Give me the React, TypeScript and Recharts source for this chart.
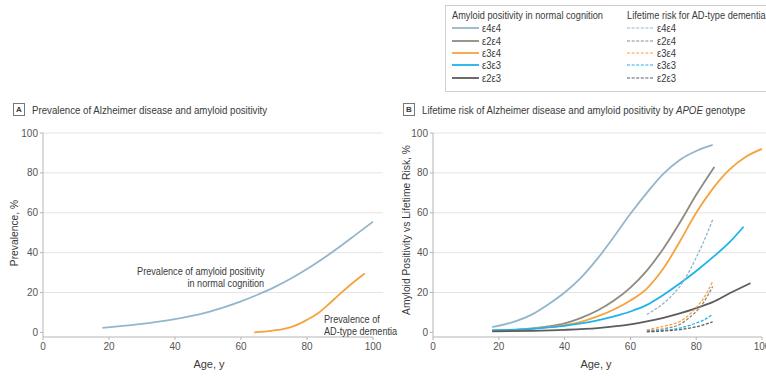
import React from "react";
import { LineChart, Line, XAxis, YAxis, ReferenceLine } from "recharts";

// ---------- Data ----------
const xTicks = [0, 20, 40, 60, 80, 100];
const yTicks = [0, 20, 40, 60, 80, 100];
const gridValues = [20, 40, 60, 80, 100];

// Panel A
const amyloidAgesA = [18, 25, 30, 35, 40, 45, 50, 55, 60, 65, 70, 75, 80, 85, 90, 95, 100];
const amyloidPrevA = [2.3, 3.4, 4.3, 5.4, 6.7, 8.3, 10.2, 12.7, 15.6, 18.9, 22.6, 26.9, 31.8, 37.2, 43.1, 49.3, 55.5];
const dementiaAgesA = [64, 67, 70, 73, 76, 80, 83, 86, 90, 94, 97.5];
const dementiaPrevA = [0, 0.4, 1, 1.8, 3.2, 6.3, 9.2, 13.3, 19.3, 25, 29.5];

// Panel B — amyloid positivity in normal cognition (solid)
const genotypes = ["ε4ε4", "ε2ε4", "ε3ε4", "ε3ε3", "ε2ε3"];
const e4e4Ages = [18, 25, 30, 35, 40, 45, 50, 55, 60, 65, 70, 75, 80, 85];
const e4e4Amy = [2.7, 5.5, 8.9, 14, 20, 27.5, 37, 48, 59.5, 70, 79.5, 86.5, 91, 94];
const e2e4Ages = [18, 25, 30, 35, 40, 45, 50, 55, 60, 65, 70, 75, 80, 85.5];
const e2e4Amy = [0.8, 1.3, 2, 3, 4.5, 7.3, 11, 16, 22.5, 31, 42, 55, 69, 83];
const e3e4Ages = [18, 25, 30, 35, 40, 45, 50, 55, 60, 65, 70, 75, 80, 85, 90, 95, 100];
const e3e4Amy = [0.8, 1.2, 1.8, 2.6, 3.6, 5.3, 8, 11.5, 16, 22, 32, 45.5, 60, 72, 81.5, 88, 92];
const e3e3Ages = [18, 25, 30, 35, 40, 45, 50, 55, 60, 65, 70, 75, 80, 85, 90, 94.4];
const e3e3Amy = [1.1, 1.4, 1.8, 2.5, 3.3, 4.5, 6, 8, 10.5, 13.8, 18.8, 24.5, 30.8, 37.6, 45, 53];
const e2e3Ages = [18, 30, 40, 50, 60, 65, 70, 75, 80, 85, 90, 96.5];
const e2e3Amy = [0.5, 0.8, 1.3, 2.2, 4, 5.5, 7.3, 9.5, 12.2, 15.2, 19.5, 24.7];

// Panel B — lifetime risk for AD-type dementia (dashed)
const e4e4RiskAges = [65, 67, 70, 72, 75, 78, 80, 82, 85];
const e4e4Risk = [9, 11, 14.5, 17.5, 23, 31, 37.5, 44.5, 56.5];
const e2e4RiskAges = [65, 70, 75, 78, 80, 82, 85];
const e2e4Risk = [0.8, 1.8, 4, 7.5, 10.5, 14.5, 23];
const e3e4RiskAges = [65, 70, 75, 78, 80, 82, 85];
const e3e4Risk = [1.3, 3, 5.5, 9, 12.5, 16.5, 25.5];
const e3e3RiskAges = [65, 70, 75, 80, 82, 85];
const e3e3Risk = [0.5, 1, 2.2, 4.7, 6, 9];
const e2e3RiskAges = [65, 70, 75, 80, 85];
const e2e3Risk = [0.3, 0.7, 1.4, 2.8, 5.3];

const toPts = (ages: number[], vals: number[]) => ages.map((age, i) => ({ age, v: vals[i] }));

const solidB = [
  toPts(e4e4Ages, e4e4Amy),
  toPts(e2e4Ages, e2e4Amy),
  toPts(e3e4Ages, e3e4Amy),
  toPts(e3e3Ages, e3e3Amy),
  toPts(e2e3Ages, e2e3Amy),
];
const dashedB = [
  toPts(e4e4RiskAges, e4e4Risk),
  toPts(e2e4RiskAges, e2e4Risk),
  toPts(e3e4RiskAges, e3e4Risk),
  toPts(e3e3RiskAges, e3e3Risk),
  toPts(e2e3RiskAges, e2e3Risk),
];

// ---------- Styles ----------
const COLORS = ["#93b6cd", "#908a80", "#f7a23f", "#1db3ea", "#5c5c5c"];
const FONT = "'Liberation Sans', Arial, sans-serif";
const TEXT = "#3a3a3a";
const AXIS = "#b5b5b5";
const GRID = "#e4e4e4";

const W = 383;
const H = 378;
const MARGIN_A = { top: 133, right: 10, bottom: 11, left: 3 };
const MARGIN_B = { top: 133, right: 4, bottom: 11, left: 10 };

const tickStyle = { fill: "#555", fontSize: 10, fontFamily: FONT };

function Axes({ gridTo }: { gridTo: number }) {
  return (
    <>
      {gridValues.map((g) => (
        <ReferenceLine
          key={g}
          segment={[{ x: 0, y: g }, { x: gridTo, y: g }]}
          stroke={GRID}
          strokeWidth={1}
          ifOverflow="visible"
        />
      ))}
      <XAxis
        dataKey="age"
        type="number"
        domain={[0, 100]}
        ticks={xTicks}
        allowDataOverflow
        height={30}
        stroke={AXIS}
        tickLine={{ stroke: AXIS }}
        tickSize={3}
        tickMargin={3}
        tick={tickStyle}
        interval={0}
      />
      <YAxis
        type="number"
        domain={[-2.3, 100]}
        ticks={yTicks}
        allowDataOverflow
        width={40}
        stroke={AXIS}
        tickLine={{ stroke: AXIS }}
        tickSize={3}
        tickMargin={2}
        tick={tickStyle}
        interval={0}
      />
    </>
  );
}

const condensed = (scale: number, origin: string): React.CSSProperties => ({
  display: "inline-block",
  transform: `scaleX(${scale})`,
  transformOrigin: origin,
  whiteSpace: "nowrap",
});

function PanelTitle({ x, letter, children }: { x: number; letter: string; children: React.ReactNode }) {
  return (
    <div style={{ position: "absolute", left: x, top: 103, display: "flex", alignItems: "center", fontFamily: FONT, color: TEXT }}>
      <div
        style={{
          width: 10,
          height: 11,
          border: "1px solid #777",
          fontSize: 8,
          fontWeight: "bold",
          display: "flex",
          alignItems: "center",
          justifyContent: "center",
          lineHeight: "11px",
        }}
      >
        {letter}
      </div>
      <div style={{ marginLeft: 7, fontSize: 11 }}>
        <span style={condensed(0.88, "left center")}>{children}</span>
      </div>
    </div>
  );
}

function LegendRow({ idx, dashed }: { idx: number; dashed: boolean }) {
  return (
    <div style={{ display: "flex", alignItems: "center", height: 12.4 }}>
      <svg width={27} height={4} style={{ display: "block" }}>
        <line
          x1={0}
          y1={2}
          x2={27}
          y2={2}
          stroke={COLORS[idx]}
          strokeWidth={dashed ? 1.2 : 1.8}
          strokeDasharray={dashed ? "3 1.6" : undefined}
        />
      </svg>
      <span style={{ marginLeft: 3, ...condensed(0.9, "left center") }}>{genotypes[idx]}</span>
    </div>
  );
}

export default function App() {
  return (
    <div style={{ position: "fixed", left: 0, top: 0, width: 766, height: 378, background: "#fff", overflow: "hidden" }}>
      {/* Legend */}
      <div
        style={{
          position: "absolute",
          left: 445,
          top: 5,
          width: 330,
          height: 85,
          border: "1px solid #cfcfcf",
          fontFamily: FONT,
          fontSize: 10.5,
          color: TEXT,
        }}
      >
        <div style={{ position: "absolute", left: 6, top: 3 }}>
          <div style={{ marginBottom: 1 }}>
            <span style={condensed(0.88, "left center")}>Amyloid positivity in normal cognition</span>
          </div>
          {genotypes.map((g, i) => (
            <LegendRow key={g} idx={i} dashed={false} />
          ))}
        </div>
        <div style={{ position: "absolute", left: 181, top: 3 }}>
          <div style={{ marginBottom: 1 }}>
            <span style={condensed(0.88, "left center")}>Lifetime risk for AD-type dementia</span>
          </div>
          {genotypes.map((g, i) => (
            <LegendRow key={g} idx={i} dashed={true} />
          ))}
        </div>
      </div>

      <PanelTitle x={13} letter="A">Prevalence of Alzheimer disease and amyloid positivity</PanelTitle>
      <PanelTitle x={403} letter="B">
        Lifetime risk of Alzheimer disease and amyloid positivity by <i>APOE</i> genotype
      </PanelTitle>

      {/* Panel A */}
      <div style={{ position: "absolute", left: 0, top: 0 }}>
        <LineChart width={W} height={H} margin={MARGIN_A}>
          <Axes gridTo={103} />
          <Line
            data={toPts(amyloidAgesA, amyloidPrevA)}
            dataKey="v"
            type="monotone"
            stroke={COLORS[0]}
            strokeWidth={1.8}
            dot={false}
            isAnimationActive={false}
          />
          <Line
            data={toPts(dementiaAgesA, dementiaPrevA)}
            dataKey="v"
            type="monotone"
            stroke={COLORS[2]}
            strokeWidth={1.8}
            dot={false}
            isAnimationActive={false}
          />
        </LineChart>
      </div>

      {/* Panel B */}
      <div style={{ position: "absolute", left: 383, top: 0 }}>
        <LineChart width={W} height={H} margin={MARGIN_B}>
          <Axes gridTo={101.5} />
          {solidB.map((d, i) => (
            <Line
              key={"s" + i}
              data={d}
              dataKey="v"
              type="monotone"
              stroke={COLORS[i]}
              strokeWidth={1.8}
              dot={false}
              isAnimationActive={false}
            />
          ))}
          {dashedB.map((d, i) => (
            <Line
              key={"d" + i}
              data={d}
              dataKey="v"
              type="monotone"
              stroke={COLORS[i]}
              strokeWidth={1.3}
              strokeDasharray="3 1.6"
              dot={false}
              isAnimationActive={false}
            />
          ))}
        </LineChart>
      </div>

      {/* Annotations Panel A */}
      <div
        style={{
          position: "absolute",
          right: 766 - 264,
          top: 265,
          textAlign: "right",
          fontFamily: FONT,
          fontSize: 10.5,
          lineHeight: "12px",
          color: TEXT,
        }}
      >
        <span style={condensed(0.87, "right center")}>Prevalence of amyloid positivity</span>
        <br />
        <span style={condensed(0.87, "right center")}>in normal cognition</span>
      </div>
      <div
        style={{
          position: "absolute",
          left: 324,
          top: 313,
          fontFamily: FONT,
          fontSize: 10.5,
          lineHeight: "12px",
          color: TEXT,
        }}
      >
        <span style={condensed(0.87, "left center")}>Prevalence of</span>
        <br />
        <span style={condensed(0.87, "left center")}>AD-type dementia</span>
      </div>

      {/* Axis labels */}
      {[
        { x: 209, text: "Age, y" },
        { x: 596, text: "Age, y" },
      ].map((l) => (
        <div
          key={l.x}
          style={{
            position: "absolute",
            left: l.x - 50,
            width: 100,
            top: 358,
            textAlign: "center",
            fontFamily: FONT,
            fontSize: 11,
            color: TEXT,
          }}
        >
          {l.text}
        </div>
      ))}
      {[
        { x: 15, y: 233, text: "Prevalence, %" },
        { x: 407, y: 230, text: "Amyloid Positivity vs Lifetime Risk, %" },
      ].map((l) => (
        <div
          key={l.x}
          style={{
            position: "absolute",
            left: l.x - 100,
            top: l.y - 7,
            width: 200,
            height: 14,
            lineHeight: "14px",
            textAlign: "center",
            transform: "rotate(-90deg)",
            fontFamily: FONT,
            fontSize: 10.3,
            color: TEXT,
            whiteSpace: "nowrap",
          }}
        >
          {l.text}
        </div>
      ))}
    </div>
  );
}
